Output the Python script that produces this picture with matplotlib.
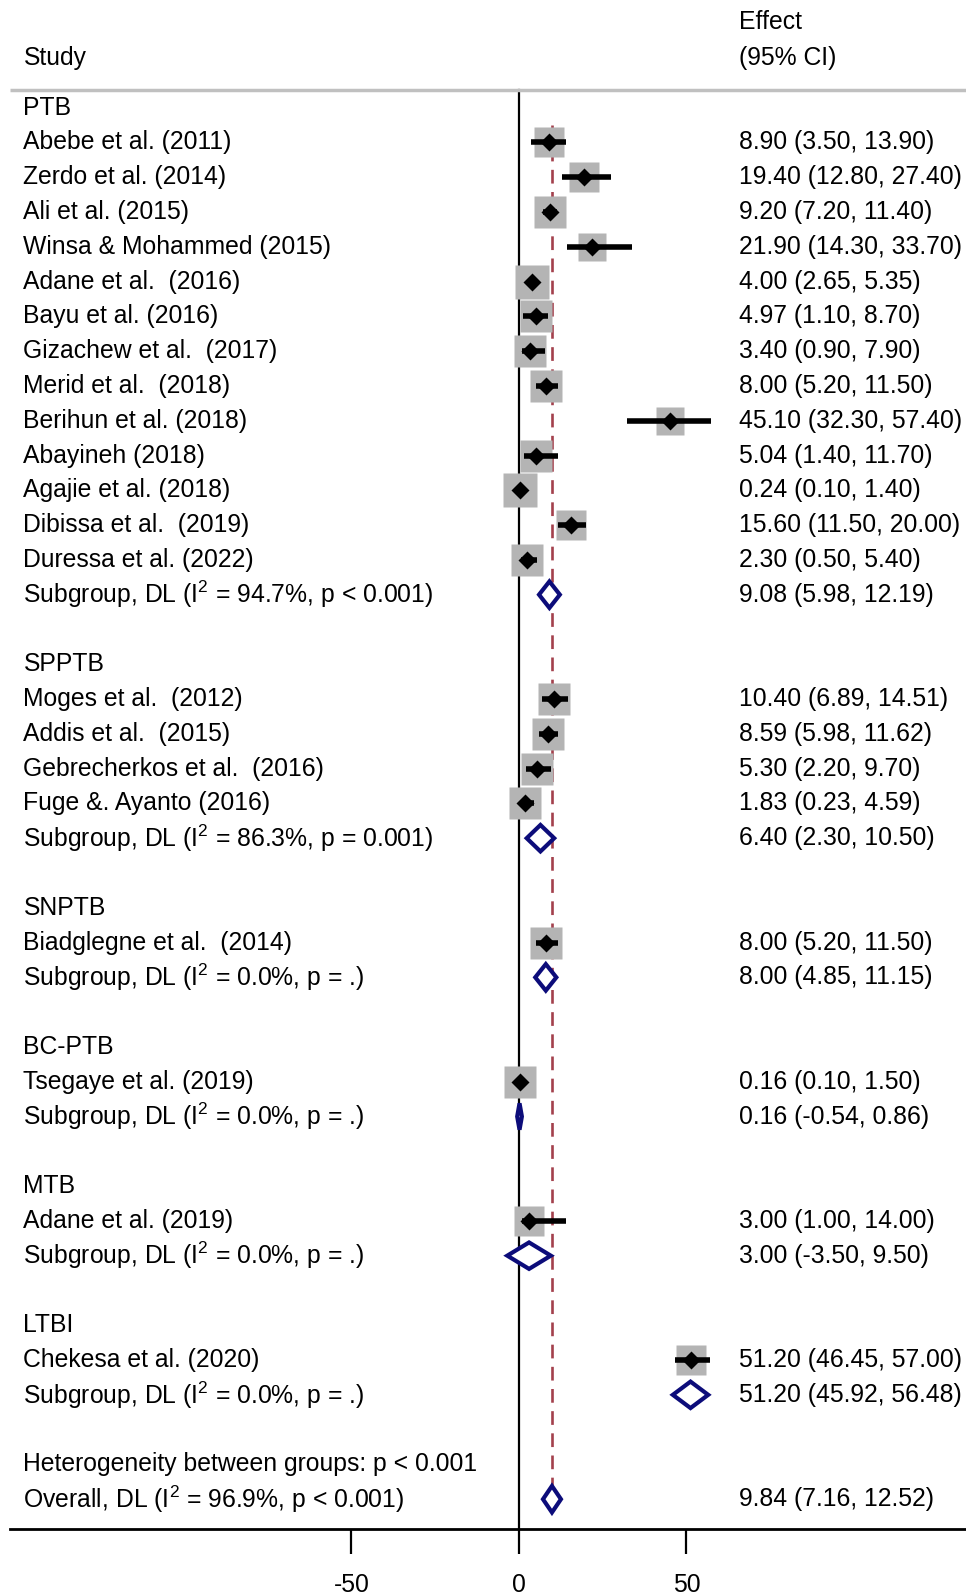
import matplotlib.pyplot as plt
import numpy as np

plt.rcParams['font.family'] = ['Liberation Sans', 'DejaVu Sans']
plt.rcParams['mathtext.fontset'] = 'custom'
plt.rcParams['mathtext.rm'] = 'Liberation Sans'

# study-level estimates (prevalence, %) grouped by TB type
groups = ["PTB", "SPPTB", "SNPTB", "BC-PTB", "MTB", "LTBI"]

studies = [
    ["Abebe et al. (2011)", "Zerdo et al. (2014)", "Ali et al. (2015)",
     "Winsa & Mohammed (2015)", "Adane et al.  (2016)", "Bayu et al. (2016)",
     "Gizachew et al.  (2017)", "Merid et al.  (2018)", "Berihun et al. (2018)",
     "Abayineh (2018)", "Agajie et al. (2018)", "Dibissa et al.  (2019)",
     "Duressa et al. (2022)"],
    ["Moges et al.  (2012)", "Addis et al.  (2015)",
     "Gebrecherkos et al.  (2016)", "Fuge &. Ayanto (2016)"],
    ["Biadglegne et al.  (2014)"],
    ["Tsegaye et al. (2019)"],
    ["Adane et al. (2019)"],
    ["Chekesa et al. (2020)"],
]
est = [
    [8.90, 19.40, 9.20, 21.90, 4.00, 4.97, 3.40, 8.00, 45.10, 5.04, 0.24, 15.60, 2.30],
    [10.40, 8.59, 5.30, 1.83],
    [8.00],
    [0.16],
    [3.00],
    [51.20],
]
lo = [
    [3.50, 12.80, 7.20, 14.30, 2.65, 1.10, 0.90, 5.20, 32.30, 1.40, 0.10, 11.50, 0.50],
    [6.89, 5.98, 2.20, 0.23],
    [5.20],
    [0.10],
    [1.00],
    [46.45],
]
hi = [
    [13.90, 27.40, 11.40, 33.70, 5.35, 8.70, 7.90, 11.50, 57.40, 11.70, 1.40, 20.00, 5.40],
    [14.51, 11.62, 9.70, 4.59],
    [11.50],
    [1.50],
    [14.00],
    [57.00],
]
weights = [
    [4.22, 4.37, 5.18, 3.64, 5.52, 4.85, 4.85, 4.85, 3.93, 4.85, 5.52, 4.53, 5.18],
    [5.18, 4.85, 5.18, 5.18],
    [4.85],
    [5.18],
    [4.22],
    [4.53],
]

# pooled DerSimonian-Laird estimates per subgroup
sub_est = [9.08, 6.40, 8.00, 0.16, 3.00, 51.20]
sub_lo = [5.98, 2.30, 4.85, -0.54, -3.50, 45.92]
sub_hi = [12.19, 10.50, 11.15, 0.86, 9.50, 56.48]
sub_i2 = ["94.7%", "86.3%", "0.0%", "0.0%", "0.0%", "0.0%"]
sub_p = ["p < 0.001", "p = 0.001", "p = .", "p = .", "p = .", "p = ."]

overall_est, overall_lo, overall_hi = 9.84, 7.16, 12.52
overall_i2, overall_p = "96.9%", "p < 0.001"
het_between = "Heterogeneity between groups: p < 0.001"

xticks = [-50, 0, 50]

W, H, DPI = 966, 1593, 100
fig = plt.figure(figsize=(W / DPI, H / DPI), dpi=DPI)
ax = fig.add_axes([10 / W, (H - 1529) / H, (W - 10) / W, 1529 / H])

px_per_unit = 3.35
x0_px = 519
ax.set_xlim((10 - x0_px) / px_per_unit, (W - x0_px) / px_per_unit)
row_h = 34.79
row0 = 107.6
ax.set_ylim((1529 - row0) / row_h, -row0 / row_h)

FS = 17.8
navy = '#0c0c7a'
box_grey = '#b4b4b4'
x_label = (23.5 - x0_px) / px_per_unit
x_effect = (739.5 - x0_px) / px_per_unit
sup2 = "I$^{\\mathregular{2}}$"


def fmt(e, l, h):
    return f"{e:.2f} ({l:.2f}, {h:.2f})"


def pooled_diamond(y, e, l, h):
    dh = 0.38
    ax.fill([l, e, h, e, l], [y, y - dh, y, y + dh, y], facecolor='white',
            edgecolor=navy, lw=3.0, joinstyle='miter', zorder=4)


ax.text(x_label, -1.43, "Study", fontsize=FS, va='center')
ax.text(x_effect, -2.45, "Effect", fontsize=FS, va='center')
ax.text(x_effect, -1.43, "(95% CI)", fontsize=FS, va='center')
ax.plot([ax.get_xlim()[0], ax.get_xlim()[1]], [-0.5, -0.5], color='#c0c0c0',
        lw=2.5, solid_capstyle='butt', clip_on=False)

r = 0
for g in range(len(groups)):
    ax.text(x_label, r, groups[g], fontsize=FS, va='center')
    r += 1
    for name, e, l, h, w in zip(studies[g], est[g], lo[g], hi[g], weights[g]):
        ax.text(x_label, r, name, fontsize=FS, va='center')
        ax.text(x_effect, r, fmt(e, l, h), fontsize=FS, va='center')
        ax.plot(e, r, marker='s', ms=np.sqrt(w) * 14.3 * 0.72, color=box_grey,
                mec='none', zorder=2)
        ax.plot([l, h], [r, r], color='black', lw=4, solid_capstyle='butt', zorder=3)
        ax.plot(e, r, marker='D', ms=9.4, color='black', mec='none', zorder=3)
        r += 1
    ax.text(x_label, r, f"Subgroup, DL ({sup2} = {sub_i2[g]}, {sub_p[g]})",
            fontsize=FS, va='center')
    ax.text(x_effect, r, fmt(sub_est[g], sub_lo[g], sub_hi[g]), fontsize=FS, va='center')
    pooled_diamond(r, sub_est[g], sub_lo[g], sub_hi[g])
    r += 2

ax.text(x_label, r, het_between, fontsize=FS, va='center')
r += 1
ax.text(x_label, r, f"Overall, DL ({sup2} = {overall_i2}, {overall_p})",
        fontsize=FS, va='center')
ax.text(x_effect, r, fmt(overall_est, overall_lo, overall_hi), fontsize=FS, va='center')
pooled_diamond(r, overall_est, overall_lo, overall_hi)

# null line and overall-estimate reference line
ax.plot([0, 0], [-0.5, ax.get_ylim()[0]], color='black', lw=1.6, zorder=1)
ax.plot([overall_est, overall_est], [0.5, r - 0.38], color='#a3404c', lw=1.9,
        dashes=(5.2, 3.2), zorder=1)

for s in ['left', 'right', 'top']:
    ax.spines[s].set_visible(False)
ax.spines['bottom'].set_linewidth(2.0)
ax.set_yticks([])
ax.set_xticks(xticks)
ax.set_xticklabels([str(t) for t in xticks], fontsize=FS)
ax.tick_params(axis='x', direction='out', length=18, width=1.6, pad=13.5)

fig.savefig('out.png', dpi=DPI)
